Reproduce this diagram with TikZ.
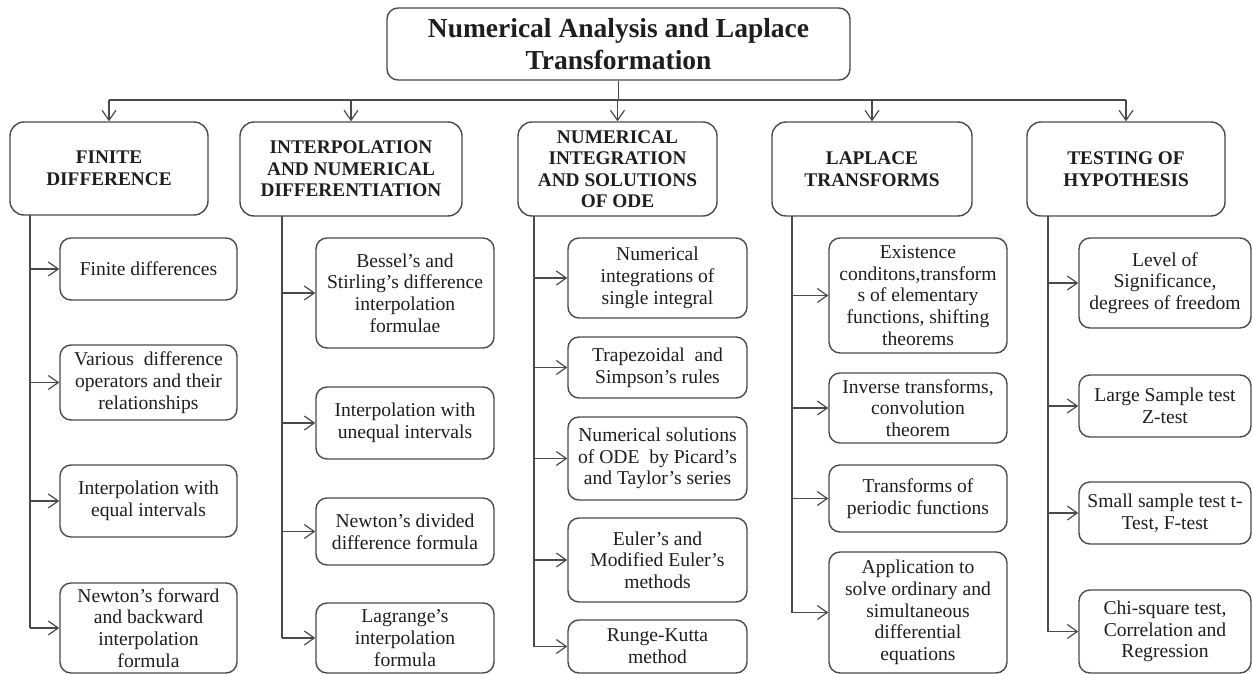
\documentclass[tikz,border=0pt]{standalone}
\usepackage{fontspec}
\setmainfont{Liberation Serif}
\usetikzlibrary{arrows.meta}
\definecolor{edge}{HTML}{4A4A4A}
\definecolor{ink}{HTML}{1E1E1E}
\tikzset{
  base/.style={draw=edge, line width=1.4pt, rounded corners=11pt, align=center,
    text=ink, inner sep=1pt},
  titlebox/.style={base, font=\fontsize{27.5}{31.5}\selectfont\bfseries},
  headbox/.style={base, rounded corners=14pt, font=\fontsize{19.3}{21.5}\selectfont\bfseries},
  itembox/.style={base, font=\fontsize{19.6}{21.7}\selectfont},
  wire/.style={draw=edge, line width=1.4pt},
  arr/.style={wire, -{Straight Barb[length=10pt,width=14pt,line width=1.2pt]}},
}
% box at (cx,cy) of size w x h
\newcommand{\bx}[7]{\node[#1, minimum width=#5pt, minimum height=#6pt] (#2) at (#3,#4) {#7};}
\begin{document}
\begin{tikzpicture}[x=1pt,y=-1pt]
\useasboundingbox (0,0) rectangle (1253,674);

% title
\bx{titlebox}{t}{618.5}{44}{463}{72}{Numerical Analysis and Laplace\\Transformation}

% headers
\bx{headbox}{h1}{109}{168.5}{198}{93}{FINITE\\DIFFERENCE}
\bx{headbox}{h2}{351}{169}{222}{94}{INTERPOLATION\\AND NUMERICAL\\DIFFERENTIATION}
\bx{headbox}{h3}{617.5}{169}{199}{94}{NUMERICAL\\INTEGRATION\\AND SOLUTIONS\\OF ODE}
\bx{headbox}{h4}{872}{169}{200}{94}{LAPLACE\\TRANSFORMS}
\bx{headbox}{h5}{1126}{169}{198}{94}{TESTING OF\\HYPOTHESIS}

% column 1
\bx{itembox}{a1}{148.5}{269}{177}{62}{Finite differences}
\bx{itembox}{a2}{148.5}{382.5}{177}{75}{Various\ \ difference\\operators and their\\relationships}
\bx{itembox}{a3}{148.5}{501}{177}{72}{Interpolation with\\equal intervals}
\bx{itembox}{a4}{148.5}{628}{177}{90}{Newton's forward\\and backward\\interpolation\\formula}

% column 2
\bx{itembox}{b1}{405}{293}{178}{110}{Bessel's and\\Stirling's difference\\interpolation\\formulae}
\bx{itembox}{b2}{405}{423}{178}{72}{Interpolation with\\unequal intervals}
\bx{itembox}{b3}{405}{531.5}{178}{67}{Newton's divided\\difference formula}
\bx{itembox}{b4}{405}{638}{178}{70}{Lagrange's\\interpolation\\formula}

% column 3
\bx{itembox}{c1}{657.5}{278}{179}{80}{Numerical\\integrations of\\single integral}
\bx{itembox}{c2}{657.5}{367.5}{179}{61}{Trapezoidal\ \ and\\Simpson's rules}
\bx{itembox}{c3}{657.5}{458.5}{179}{83}{Numerical solutions\\of ODE\ \ by Picard's\\and Taylor's series}
\bx{itembox}{c4}{657.5}{560}{179}{84}{Euler's and\\Modified Euler's\\methods}
\bx{itembox}{c5}{657.5}{646.5}{179}{53}{Runge-Kutta\\method}

% column 4
\bx{itembox}{d1}{918}{295.5}{178}{115}{Existence\\conditons,transform\\s of elementary\\functions, shifting\\theorems}
\bx{itembox}{d2}{918}{408}{178}{70}{Inverse transforms,\\convolution\\theorem}
\bx{itembox}{d3}{918}{498.5}{178}{67}{Transforms of\\periodic functions}
\bx{itembox}{d4}{918}{612.5}{178}{121}{Application to\\solve ordinary and\\simultaneous\\differential\\equations}

% column 5
\bx{itembox}{e1}{1165}{283}{172}{90}{Level of\\Significance,\\degrees of freedom}
\bx{itembox}{e2}{1165}{406}{172}{62}{Large Sample test\\Z-test}
\bx{itembox}{e3}{1165}{513}{172}{62}{Small sample test t-\\Test, F-test}
\bx{itembox}{e4}{1165}{631.5}{172}{83}{Chi-square test,\\Correlation and\\Regression}

% bus from the title to the five headers
\coordinate (bus) at (618.5,100);
\draw[wire] (t.south) -- (bus);
\draw[wire] (h1.north |- bus) -- (h5.north |- bus);
\foreach \h in {h1,h2,h3,h4,h5}
  \draw[arr] (\h.north |- bus) -- (\h.north);

% trunks under each header
\coordinate (k1) at (30,215);
\coordinate (k2) at (282,216);
\coordinate (k3) at (534,216);
\coordinate (k4) at (792,216);
\coordinate (k5) at (1048,216);
\draw[wire] (k1) -- (k1 |- a4.west);
\draw[wire] (k2) -- (k2 |- b4.west);
\draw[wire] (k3) -- (k3 |- c5.west);
\draw[wire] (k4) -- (k4 |- d4.west);
\draw[wire] (k5) -- (k5 |- e4.west);

\foreach \n in {a1,a2,a3,a4} \draw[arr] (k1 |- \n.west) -- (\n.west);
\foreach \n in {b1,b2,b3,b4} \draw[arr] (k2 |- \n.west) -- (\n.west);
\foreach \n in {c1,c2,c3,c4,c5} \draw[arr] (k3 |- \n.west) -- (\n.west);
\foreach \n in {d1,d2,d3,d4} \draw[arr] (k4 |- \n.west) -- (\n.west);
\foreach \n in {e1,e2,e3,e4} \draw[arr] (k5 |- \n.west) -- (\n.west);
\end{tikzpicture}
\end{document}
